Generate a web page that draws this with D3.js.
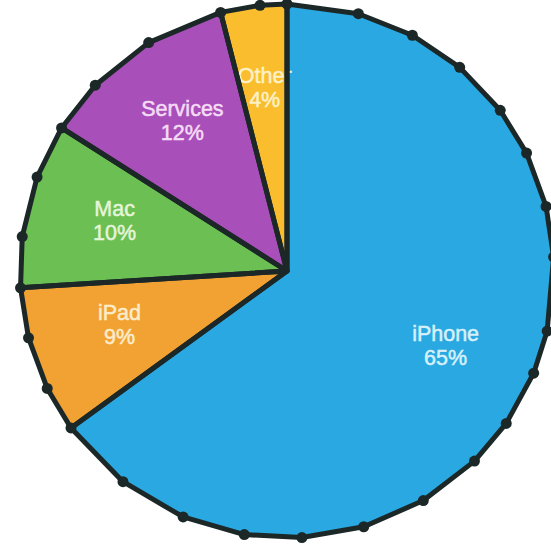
<!DOCTYPE html>
<html>
<head>
<meta charset="utf-8">
<script src="https://cdn.jsdelivr.net/npm/d3@7"></script>
<style>
  html, body { margin: 0; padding: 0; background: #fff; }
  svg { display: block; }
</style>
</head>
<body>
<svg width="551" height="551"></svg>
<script>
// revenue share by product
var categories = ["iPhone", "iPad", "Mac", "Services", "Other"];
var shares = [65, 9, 10, 12, 4];
var fills = ["#2aa8e1", "#f1a232", "#6cbf52", "#a94fb9", "#f9bd2d"];
var labelColors = ["#d6f1fb", "#fbeccb", "#e4f5da", "#f5dcf6", "#fdf1c6"];

// the rim is drawn as a polygon with a dot on each corner (degrees, clockwise from top)
var rimAngles = [15.5, 28, 40.3, 53, 63.8, 76, 87, 103, 112.5, 124.8, 135.4, 149.3,
  163.3, 176.8, 189.2, 202.9, 217.9, 243.9, 255.5, 277.4, 290.6, 314.1, 328.8, 354.2];

var svg = d3.select("svg"),
    cx = 287,
    cy = 271,
    radius = 267;

var g = svg.append("g").attr("transform", "translate(" + cx + "," + cy + ")");

var data = categories.map(function (c, i) {
  return { name: c, value: shares[i], fill: fills[i], label: labelColors[i] };
});

var pie = d3.pie().sort(null).value(function (d) { return d.value; });
var arcs = pie(data);

var rad = Math.PI / 180;
var rim = rimAngles.map(function (a) { return a * rad; });

// polygon for one slice: centre, start corner, rim corners inside, end corner
function slicePoints(d) {
  var pts = [[0, 0], [d.startAngle, radius]];
  rim.forEach(function (a) {
    if (a > d.startAngle + 0.01 && a < d.endAngle - 0.01) pts.push([a, radius]);
  });
  pts.push([d.endAngle, radius]);
  return pts;
}

var radial = d3.lineRadial()
  .angle(function (p) { return p[0]; })
  .radius(function (p) { return p[1]; })
  .curve(d3.curveLinearClosed);

// fills
g.selectAll("path.slice")
  .data(arcs)
  .enter()
  .append("path")
  .attr("class", "slice")
  .attr("d", function (d) { return radial(slicePoints(d)); })
  .attr("fill", function (d) { return d.data.fill; })
  .attr("stroke", "none");

// labels sit under the outlines
var labelArc = d3.arc().innerRadius(178).outerRadius(178);

var labels = g.selectAll("text.label")
  .data(arcs)
  .enter()
  .append("text")
  .attr("class", "label")
  .attr("transform", function (d) { return "translate(" + labelArc.centroid(d) + ")"; })
  .attr("text-anchor", "middle")
  .attr("font-family", "'Liberation Sans', Arial, sans-serif")
  .attr("font-size", 21.5)
  .attr("fill", function (d) { return d.data.label; })
  .attr("stroke", function (d) { return d.data.label; })
  .attr("stroke-width", 0.5);

labels.append("tspan")
  .attr("x", 0)
  .attr("y", -11)
  .text(function (d) { return d.data.name; });

labels.append("tspan")
  .attr("x", 0)
  .attr("y", 13)
  .text(function (d) { return d.data.value + "%"; });

// outlines
g.selectAll("path.edge")
  .data(arcs)
  .enter()
  .append("path")
  .attr("class", "edge")
  .attr("d", function (d) { return radial(slicePoints(d)); })
  .attr("fill", "none")
  .attr("stroke", "#1c2828")
  .attr("stroke-width", 5)
  .attr("stroke-linejoin", "round");

// dots on every rim corner
var corners = rim.concat(arcs.map(function (d) { return d.startAngle; }));

g.selectAll("circle.dot")
  .data(corners)
  .enter()
  .append("circle")
  .attr("class", "dot")
  .attr("cx", function (a) { return radius * Math.sin(a); })
  .attr("cy", function (a) { return -radius * Math.cos(a); })
  .attr("r", 5.5)
  .attr("fill", "#1c2828");
</script>
</body>
</html>
